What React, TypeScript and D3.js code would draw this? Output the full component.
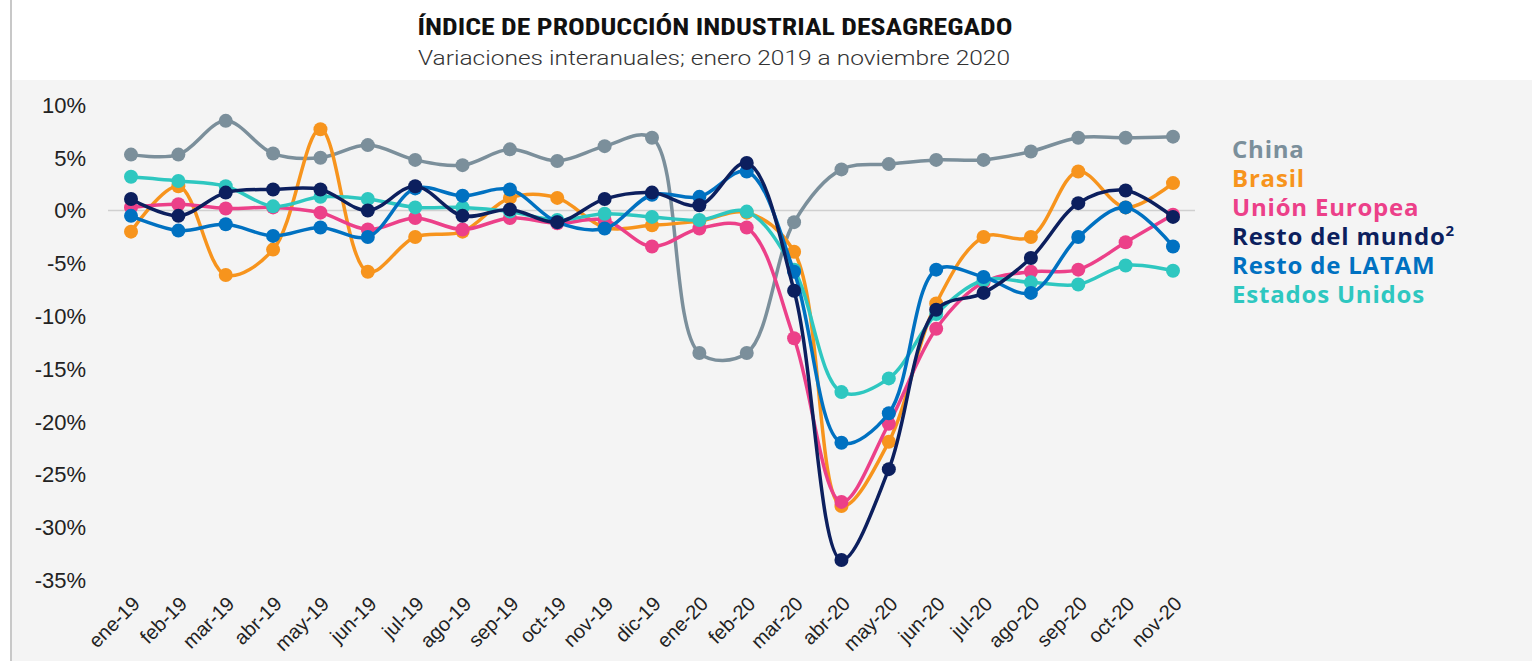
import React from "react";
import * as d3 from "d3";

const months = ["ene-19","feb-19","mar-19","abr-19","may-19","jun-19","jul-19","ago-19","sep-19","oct-19","nov-19","dic-19","ene-20","feb-20","mar-20","abr-20","may-20","jun-20","jul-20","ago-20","sep-20","oct-20","nov-20"];

const china = [5.3,5.3,8.5,5.4,5.0,6.2,4.8,4.3,5.8,4.7,6.1,6.9,-13.5,-13.5,-1.1,3.9,4.4,4.8,4.8,5.6,6.9,6.9,7.0];
const brasil = [-2.0,2.3,-6.1,-3.7,7.7,-5.8,-2.5,-2.0,1.2,1.2,-1.6,-1.4,-1.0,-0.2,-3.9,-28.0,-21.9,-8.8,-2.5,-2.5,3.7,0.3,2.6];
const unionEuropea = [0.3,0.6,0.2,0.3,-0.2,-1.8,-0.7,-1.8,-0.7,-1.2,-0.9,-3.4,-1.7,-1.6,-12.1,-27.6,-20.2,-11.2,-6.8,-5.8,-5.6,-3.0,-0.4];
const estadosUnidos = [3.2,2.8,2.3,0.4,1.3,1.1,0.3,0.3,-0.1,-0.9,-0.3,-0.6,-0.9,-0.1,-5.6,-17.2,-15.9,-9.8,-6.6,-6.8,-7.0,-5.2,-5.7];
const restoLatam = [-0.5,-1.9,-1.3,-2.4,-1.6,-2.5,2.1,1.4,2.0,-1.1,-1.7,1.5,1.3,3.7,-5.8,-22.0,-19.2,-5.6,-6.3,-7.8,-2.5,0.3,-3.4];
const restoMundo = [1.1,-0.5,1.7,2.0,2.0,0.0,2.3,-0.5,0.1,-1.1,1.1,1.7,0.5,4.5,-7.6,-33.1,-24.5,-9.4,-7.8,-4.5,0.7,1.9,-0.6];

const yTicks = [10,5,0,-5,-10,-15,-20,-25,-30,-35];

const seriesNames = ["China","Brasil","Unión Europea","Resto del mundo","Resto de LATAM","Estados Unidos"];
const seriesColors = ["#7b8f9b","#f7941d","#ec4089","#0c1f5e","#0071c1","#2ec7c0"];
const seriesValues = [china, brasil, unionEuropea, restoMundo, restoLatam, estadosUnidos];
// draw order (bottom to top)
const drawOrder = [0,1,2,5,4,3];

export default function App() {
  const W = 1532, H = 661;
  const x = d3.scalePoint<string>().domain(months).range([131, 1173]);
  const y = d3.scaleLinear().domain([-35, 10]).range([580, 105]);
  const line = d3.line<number>()
    .x((_, i) => x(months[i]) as number)
    .y((d) => y(d))
    .curve(d3.curveCatmullRom.alpha(0.5));

  const sans = "'Liberation Sans', Arial, sans-serif";
  const legendFont = "'Open Sans', 'Noto Sans', sans-serif";

  return (
    <svg width={W} height={H} style={{ position: "absolute", left: 0, top: 0 }}>
      <rect x={0} y={0} width={W} height={H} fill="#ffffff" />
      <rect x={12} y={80} width={W - 12} height={H - 80} fill="#f4f4f4" />
      <line x1={11} x2={11} y1={0} y2={H} stroke="#c8c8c8" strokeWidth={2} />

      <text x={715} y={35} textAnchor="middle" fontFamily="'Liberation Sans Narrow', 'Roboto Condensed', Roboto, sans-serif"
        fontWeight={700} fontSize={23} fill="#111" textLength={595} lengthAdjust="spacingAndGlyphs">
        ÍNDICE DE PRODUCCIÓN INDUSTRIAL DESAGREGADO
      </text>
      <text x={714} y={65} textAnchor="middle" fontFamily="Roboto, sans-serif" fontWeight={300} fontSize={21}
        fill="#333" textLength={592} lengthAdjust="spacingAndGlyphs">
        Variaciones interanuales; enero 2019 a noviembre 2020
      </text>

      {/* zero line */}
      <line x1={108} x2={1195} y1={y(0)} y2={y(0)} stroke="#d0d0d0" strokeWidth={1.5} />

      {/* y axis labels */}
      {yTicks.map((t) => (
        <text key={t} x={86} y={y(t)} dy="0.36em" textAnchor="end" fontFamily={sans} fontSize={22} fill="#222">
          {t}%
        </text>
      ))}

      {/* x axis labels */}
      {months.map((m) => {
        const px = (x(m) as number) + 10;
        const py = 605;
        return (
          <text key={m} x={px} y={py} textAnchor="end" fontFamily={sans} fontSize={20} fill="#222"
            transform={`rotate(-45, ${px}, ${py})`}>
            {m}
          </text>
        );
      })}

      {/* series */}
      {drawOrder.map((si) => (
        <g key={seriesNames[si]}>
          <path d={line(seriesValues[si]) || ""} fill="none" stroke={seriesColors[si]} strokeWidth={3.5} />
          {seriesValues[si].map((v, i) => (
            <circle key={i} cx={x(months[i]) as number} cy={y(v)} r={7} fill={seriesColors[si]} />
          ))}
        </g>
      ))}

      {/* legend */}
      {seriesNames.map((n, i) => (
        <text key={n} x={1232} y={158 + i * 29} fontFamily={legendFont} fontWeight={700} fontSize={24}
          letterSpacing={0.8} fill={seriesColors[i]}>
          {n}
          {n === "Resto del mundo" ? <tspan dy={-9} fontSize={15}>2</tspan> : null}
        </text>
      ))}
    </svg>
  );
}
